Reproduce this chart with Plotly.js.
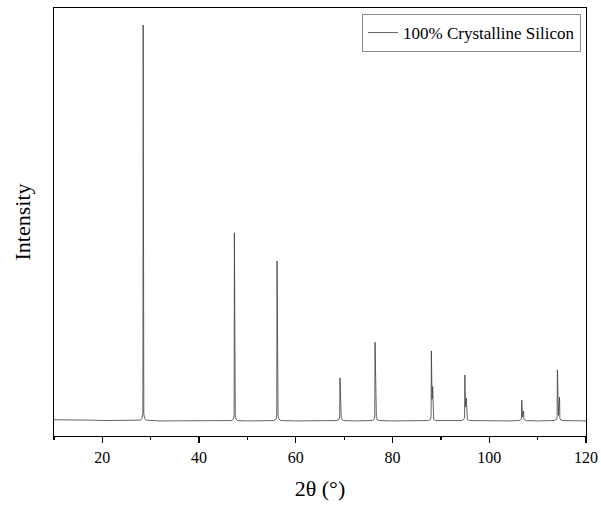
<!DOCTYPE html>
<html>
<head>
<meta charset="utf-8">
<script src="https://cdn.plot.ly/plotly-3.0.1.min.js"></script>
<style>html,body{margin:0;padding:0;background:#fff;}#chart{width:601px;height:511px;}</style>
</head>
<body>
<div id="chart"></div>
<script>
// 2θ (degrees)
const twoTheta = [
  10.0, 12.0, 14.0, 16.0, 18.0, 20.0, 22.0, 24.0, 26.0, 27.8,
  28.2, 28.38, 28.44, 28.48, 28.51, 28.57, 28.75, 29.1,
  32, 36, 40, 44, 46.7,
  47.1, 47.24, 47.30, 47.37, 47.42, 47.48, 47.62, 48.0,
  50, 53, 55.5,
  55.92, 56.06, 56.12, 56.2, 56.27, 56.33, 56.47, 56.9,
  60, 64, 68.5,
  68.93, 69.07, 69.13, 69.23, 69.33, 69.39, 69.53, 69.9,
  72, 75.8,
  76.18, 76.32, 76.38, 76.49, 76.60, 76.66, 76.8, 77.2,
  80, 84, 87.4,
  87.83, 87.97, 88.03, 88.17, 88.30, 88.36, 88.5, 88.9,
  92, 94.3,
  94.75, 94.89, 94.95, 95.1, 95.26, 95.32, 95.46, 95.9,
  100, 104, 106.1,
  106.5, 106.65, 106.71, 106.9, 107.09, 107.15, 107.3, 107.7,
  110, 113.4,
  113.89, 114.03, 114.09, 114.31, 114.53, 114.59, 114.73, 115.2,
  118, 120
];
// Intensity (arbitrary units, strongest peak = 1000)
const intensity = [
  3, 3, 2, 2, 2, 1, 1, 1, 1, 2,
  6, 20, 1000, 420, 490, 18, 6, 2,
  0, 0, 0, 0, 1,
  5, 16, 475, 180, 245, 14, 5, 1,
  0, 0, 1,
  5, 15, 404, 150, 198, 13, 5, 1,
  0, 0, 1,
  4, 10, 109, 40, 54, 9, 4, 1,
  0, 1,
  4, 12, 199, 70, 99, 11, 4, 1,
  0, 0, 1,
  4, 11, 177, 55, 87, 10, 4, 1,
  0, 1,
  4, 9, 116, 35, 57, 8, 3, 1,
  0, 0, 1,
  3, 7, 53, 10, 25, 6, 3, 1,
  0, 1,
  4, 9, 129, 14, 60, 8, 3, 1,
  0, 0
];
const seriesName = '100% Crystalline Silicon';
const xTitle = '2θ (°)';
const yTitle = 'Intensity';

Plotly.newPlot('chart', [{
  x: twoTheta, y: intensity, type: 'scatter', mode: 'lines', name: seriesName,
  line: {color: '#3c3c3c', width: 0.8}
}], {
  width: 601, height: 511,
  margin: {l: 54, r: 15, t: 8, b: 75},
  paper_bgcolor: '#fff', plot_bgcolor: '#fff',
  showlegend: true,
  legend: {x: 0.9906, xanchor: 'right', y: 0.986, yanchor: 'top',
    bordercolor: '#8a8a8a', borderwidth: 1, bgcolor: '#fff',
    font: {family: 'Liberation Serif', size: 17, color: '#000'}},
  xaxis: {
    range: [10, 120], tick0: 0, dtick: 20, ticks: 'outside', ticklen: 6, tickwidth: 1.2,
    tickcolor: '#000', showline: true, linecolor: '#000', linewidth: 1.3, mirror: true,
    showgrid: false, zeroline: false,
    minor: {dtick: 10, tick0: 0, ticks: 'outside', ticklen: 3, tickwidth: 1.2, tickcolor: '#000', showgrid: false},
    tickfont: {family: 'Liberation Serif', size: 16, color: '#000'},
    title: {text: xTitle, font: {family: 'Liberation Serif', size: 22, color: '#000'}, standoff: 16}
  },
  yaxis: {
    range: [-38, 1043], showticklabels: false, ticks: '', showgrid: false, zeroline: false,
    showline: true, linecolor: '#000', linewidth: 1.3, mirror: true,
    title: {text: yTitle, font: {family: 'Liberation Serif', size: 22, color: '#000'}, standoff: 16}
  }
}, {displayModeBar: false, staticPlot: true});
</script>
</body>
</html>
